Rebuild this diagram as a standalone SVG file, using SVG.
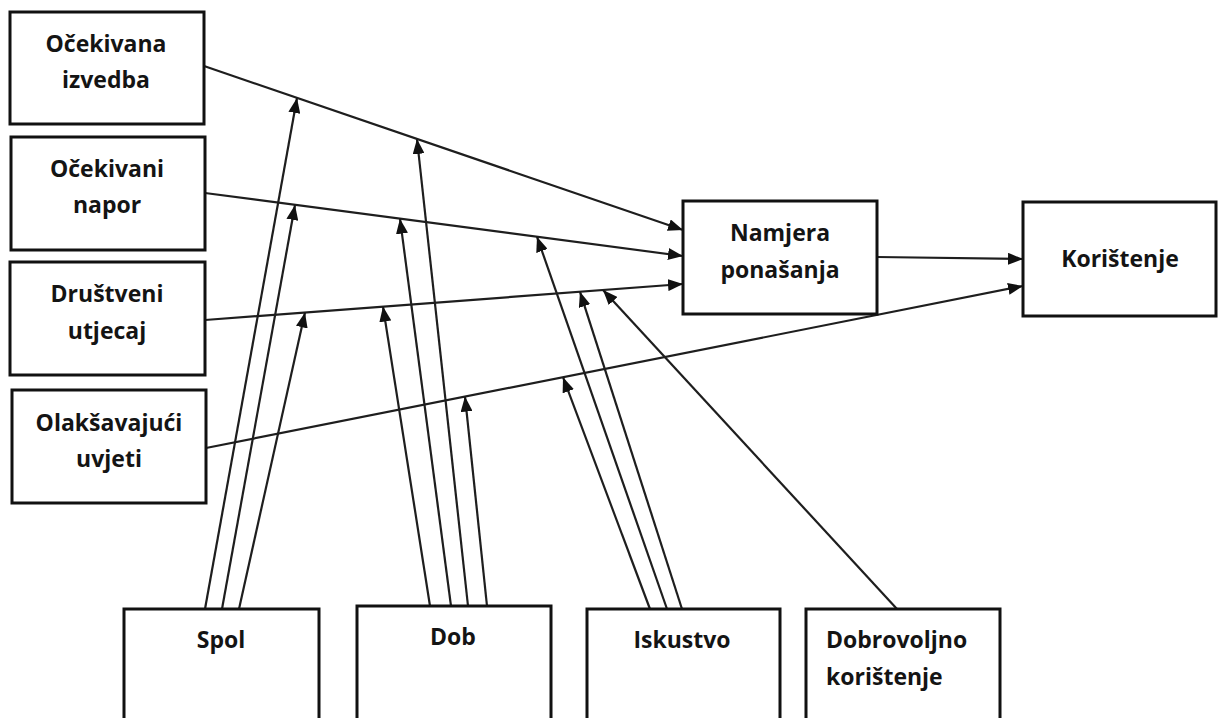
<svg xmlns="http://www.w3.org/2000/svg" width="1218" height="718" viewBox="0 0 1218 718">
<defs>
<marker id="ah" markerUnits="userSpaceOnUse" markerWidth="15" markerHeight="12" refX="15" refY="6" orient="auto">
<path d="M0,0 L15,6 L0,12 z" fill="#111"/>
</marker>
</defs>
<style>
.box{fill:#fff;stroke:#111;stroke-width:3}
.t{font-family:"Open Sans","Liberation Sans",sans-serif;font-weight:700;font-size:23px;fill:#141414}
.c{text-anchor:middle}
.ln{stroke:#1e1e1e;stroke-width:2.2;fill:none;marker-end:url(#ah)}
</style>
<rect width="1218" height="718" fill="#fff"/>
<g id="connectors">
<line class="ln" x1="204" y1="66" x2="683" y2="230"/>
<line class="ln" x1="205" y1="193" x2="683" y2="256"/>
<line class="ln" x1="205" y1="320" x2="683" y2="284"/>
<line class="ln" x1="206" y1="448" x2="1023" y2="286"/>
<line class="ln" x1="877" y1="257" x2="1023" y2="259"/>
<line class="ln" x1="205" y1="609" x2="297" y2="98"/>
<line class="ln" x1="222" y1="609" x2="295" y2="205"/>
<line class="ln" x1="239" y1="609" x2="305" y2="312.5"/>
<line class="ln" x1="430" y1="606" x2="383" y2="306.6"/>
<line class="ln" x1="451" y1="606" x2="400" y2="218.7"/>
<line class="ln" x1="468" y1="606" x2="417" y2="139"/>
<line class="ln" x1="487" y1="606" x2="465" y2="396.6"/>
<line class="ln" x1="650" y1="609" x2="563" y2="377.2"/>
<line class="ln" x1="667" y1="609" x2="537" y2="236.8"/>
<line class="ln" x1="682" y1="609" x2="580" y2="291.8"/>
<line class="ln" x1="897" y1="609" x2="603" y2="290"/>
</g>
<g id="n-ocekivana-izvedba">
<rect class="box" x="10" y="12" width="194" height="112"/>
<text class="t c" x="106" y="52">Očekivana</text>
<text class="t c" x="106" y="88">izvedba</text>
</g>
<g id="n-ocekivani-napor">
<rect class="box" x="11" y="137" width="194" height="113"/>
<text class="t c" x="107" y="177">Očekivani</text>
<text class="t c" x="107" y="213">napor</text>
</g>
<g id="n-drustveni-utjecaj">
<rect class="box" x="10" y="262" width="195" height="113"/>
<text class="t c" x="107" y="302">Društveni</text>
<text class="t c" x="107" y="339">utjecaj</text>
</g>
<g id="n-olaksavajuci-uvjeti">
<rect class="box" x="12" y="390" width="194" height="113"/>
<text class="t c" x="109" y="431">Olakšavajući</text>
<text class="t c" x="109" y="467">uvjeti</text>
</g>
<g id="n-namjera-ponasanja">
<rect class="box" x="683" y="201" width="194" height="113"/>
<text class="t c" x="780" y="241">Namjera</text>
<text class="t c" x="780" y="278">ponašanja</text>
</g>
<g id="n-koristenje">
<rect class="box" x="1023" y="202" width="193" height="114"/>
<text class="t c" x="1120" y="267">Korištenje</text>
</g>
<g id="n-spol">
<rect class="box" x="124" y="609" width="195" height="130"/>
<text class="t c" x="221" y="648">Spol</text>
</g>
<g id="n-dob">
<rect class="box" x="357" y="606" width="194" height="133"/>
<text class="t c" x="453" y="645">Dob</text>
</g>
<g id="n-iskustvo">
<rect class="box" x="587" y="609" width="193" height="130"/>
<text class="t c" x="682" y="648">Iskustvo</text>
</g>
<g id="n-dobrovoljno-koristenje">
<rect class="box" x="806" y="609" width="194" height="130"/>
<text class="t" x="826" y="648">Dobrovoljno</text>
<text class="t" x="826" y="685">korištenje</text>
</g>
</svg>
